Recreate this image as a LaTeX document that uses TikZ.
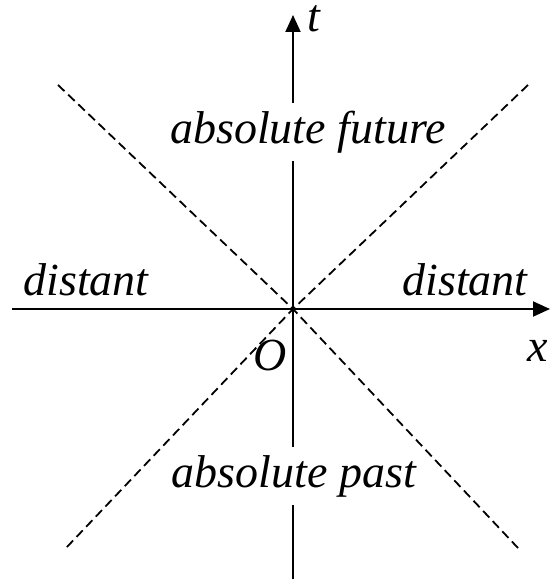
\documentclass[tikz,border=0pt]{standalone}
\usepackage{fontspec}
\setmainfont{Liberation Serif}
\usetikzlibrary{arrows.meta}
\begin{document}
\begin{tikzpicture}[x=1pt,y=-1pt,
  axis/.style={line width=2pt,-{Triangle[length=17pt,width=15pt]}},
  cone/.style={line width=1.8pt,dash pattern=on 9pt off 5pt},
  lbl/.style={font=\fontsize{46}{50}\selectfont\itshape,inner sep=0pt},
  boxed/.style={fill=white,inner xsep=2pt,inner ysep=8pt}]
\useasboundingbox (0,0) rectangle (550,588);
\coordinate (O) at (293,309);
\coordinate (xl) at (12,309);
\coordinate (xr) at (550,309);
\coordinate (tb) at (293,579);
\coordinate (tt) at (293,15);
\coordinate (ul) at (58,85);
\coordinate (lr) at (518,548);
\coordinate (ur) at (528,85);
\coordinate (ll) at (66,548);
\draw[cone] (ul) -- (O) -- (lr);
\draw[cone] (ur) -- (O) -- (ll);
\draw[axis] (xl) -- (xr);
\draw[axis] (tb) -- (tt);
\node[lbl,boxed,anchor=base] (fut) at (308,143) {absolute future};
\node[lbl,boxed,anchor=base] (past) at (294,487) {absolute past};
\node[lbl,anchor=base] (dl) at (86,295) {distant};
\node[lbl,anchor=base] (dr) at (465,295) {distant};
\node[lbl,anchor=base] (o) at (270,370) {O};
\node[lbl,anchor=base] (xlab) at (538,361) {x};
\node[lbl,anchor=base] (tlab) at (314,32) {t};
\end{tikzpicture}
\end{document}
